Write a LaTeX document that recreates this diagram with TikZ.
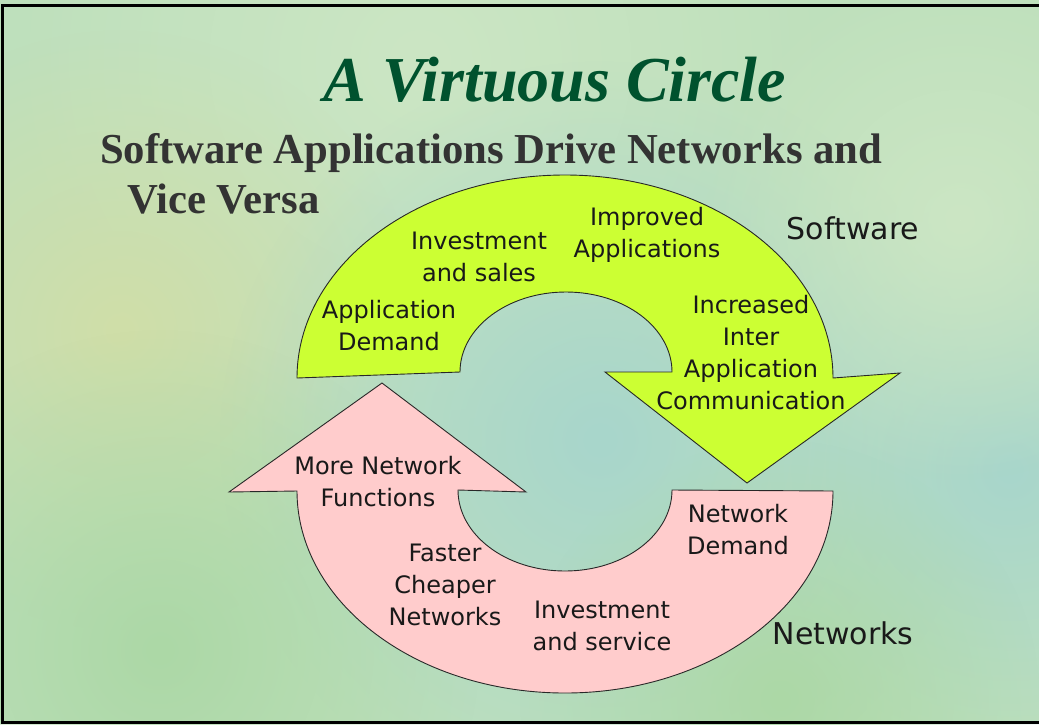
\documentclass[tikz,border=0pt]{standalone}
\usepackage{fontspec}
\usetikzlibrary{fadings}
\setmainfont{Liberation Serif}
\newfontfamily\comicfont{DejaVu Sans}
\definecolor{bgbase}{RGB}{190,224,188}
\definecolor{bgyellow}{RGB}{208,222,168}
\definecolor{bgblue}{RGB}{168,214,204}
\definecolor{bglight}{RGB}{204,230,196}
\definecolor{bggreen}{RGB}{172,216,166}
\definecolor{swgreen}{RGB}{204,255,51}
\definecolor{netpink}{RGB}{255,204,204}
\definecolor{outlinec}{RGB}{40,40,40}
\definecolor{textc}{RGB}{25,25,25}
\definecolor{titlec}{RGB}{0,82,46}
\definecolor{subc}{RGB}{51,51,51}
\tikzfading[name=blobfade, inner color=transparent!0, outer color=transparent!100]
\tikzset{
  bgblob/.style={fill=#1, path fading=blobfade, fit fading=true},
  shapeoutline/.style={draw=outlinec, line width=0.9pt, line join=miter},
  lbl/.style={font=\comicfont\fontsize{24}{32}\selectfont, text=textc, align=center, inner sep=0pt},
  biglbl/.style={font=\comicfont\fontsize{30}{36}\selectfont, text=textc, inner sep=0pt, anchor=base},
}
\begin{document}
\begin{tikzpicture}[x=1pt,y=-1pt]
\useasboundingbox (0,0) rectangle (1039,724);
% background
\fill[bgbase] (0,0) rectangle (1039,724);
\begin{scope}
\clip (0,0) rectangle (1039,724);
\path[bgblob=bglight] (420,60) circle (420pt);
\path[bgblob=bgyellow] (120,330) circle (300pt);
\path[bgblob=bgblue] (600,440) circle (380pt);
\path[bgblob=bgblue] (1010,470) circle (300pt);
\path[bgblob=bggreen] (160,650) circle (320pt);
\path[bgblob=bglight] (960,220) circle (260pt);
\path[bgblob=bggreen] (780,700) circle (260pt);
\end{scope}
% frame
\draw[line width=3pt] (1039,5.5) -- (2.5,5.5) -- (2.5,722.5) -- (1039,722.5);
% titles
\node[font=\fontsize{64}{70}\selectfont\bfseries\itshape, text=titlec, anchor=base, inner sep=0pt] (title) at (555,101) {A Virtuous Circle};
\node[font=\fontsize{42.7}{50}\selectfont\bfseries, text=subc, anchor=base west, inner sep=0pt] (sub1) at (100,163) {Software Applications Drive Networks and};
\node[font=\fontsize{42.7}{50}\selectfont\bfseries, text=subc, anchor=base west, inner sep=0pt] (sub2) at (127,213) {Vice Versa};
% software arrow (green)
\filldraw[shapeoutline, fill=swgreen] (297,378) arc[start angle=180, end angle=0, x radius=268pt, y radius=203pt]
  -- (900,373) -- (747,483) -- (605,372) -- (672,372)
  arc[start angle=0, end angle=180, x radius=106pt, y radius=80pt] -- cycle;
% network arrow (pink)
\filldraw[shapeoutline, fill=netpink] (297,491) arc[start angle=180, end angle=360, x radius=268pt, y radius=202pt]
  -- (672,490)
  arc[start angle=0, end angle=-180, x radius=107pt, y radius=81pt]
  -- (526,492) -- (382,383) -- (229,492) -- cycle;
% labels
\node[lbl] (improved) at (647,235) {Improved\\Applications};
\node[lbl] (invsales) at (479,257) {Investment\\and sales};
\node[lbl] (appdemand) at (389,326) {Application\\Demand};
\node[lbl] (increased) at (751,353) {Increased\\Inter\\Application\\Communication};
\node[lbl] (morenet) at (378,482) {More Network\\Functions};
\node[lbl] (netdemand) at (738,530) {Network\\Demand};
\node[lbl] (faster) at (445,585) {Faster\\Cheaper\\Networks};
\node[lbl] (invservice) at (602,626) {Investment\\and service};
\node[biglbl] (software) at (853,239) {Software};
\node[biglbl] (networks) at (843,644) {Networks};
\end{tikzpicture}
\end{document}
